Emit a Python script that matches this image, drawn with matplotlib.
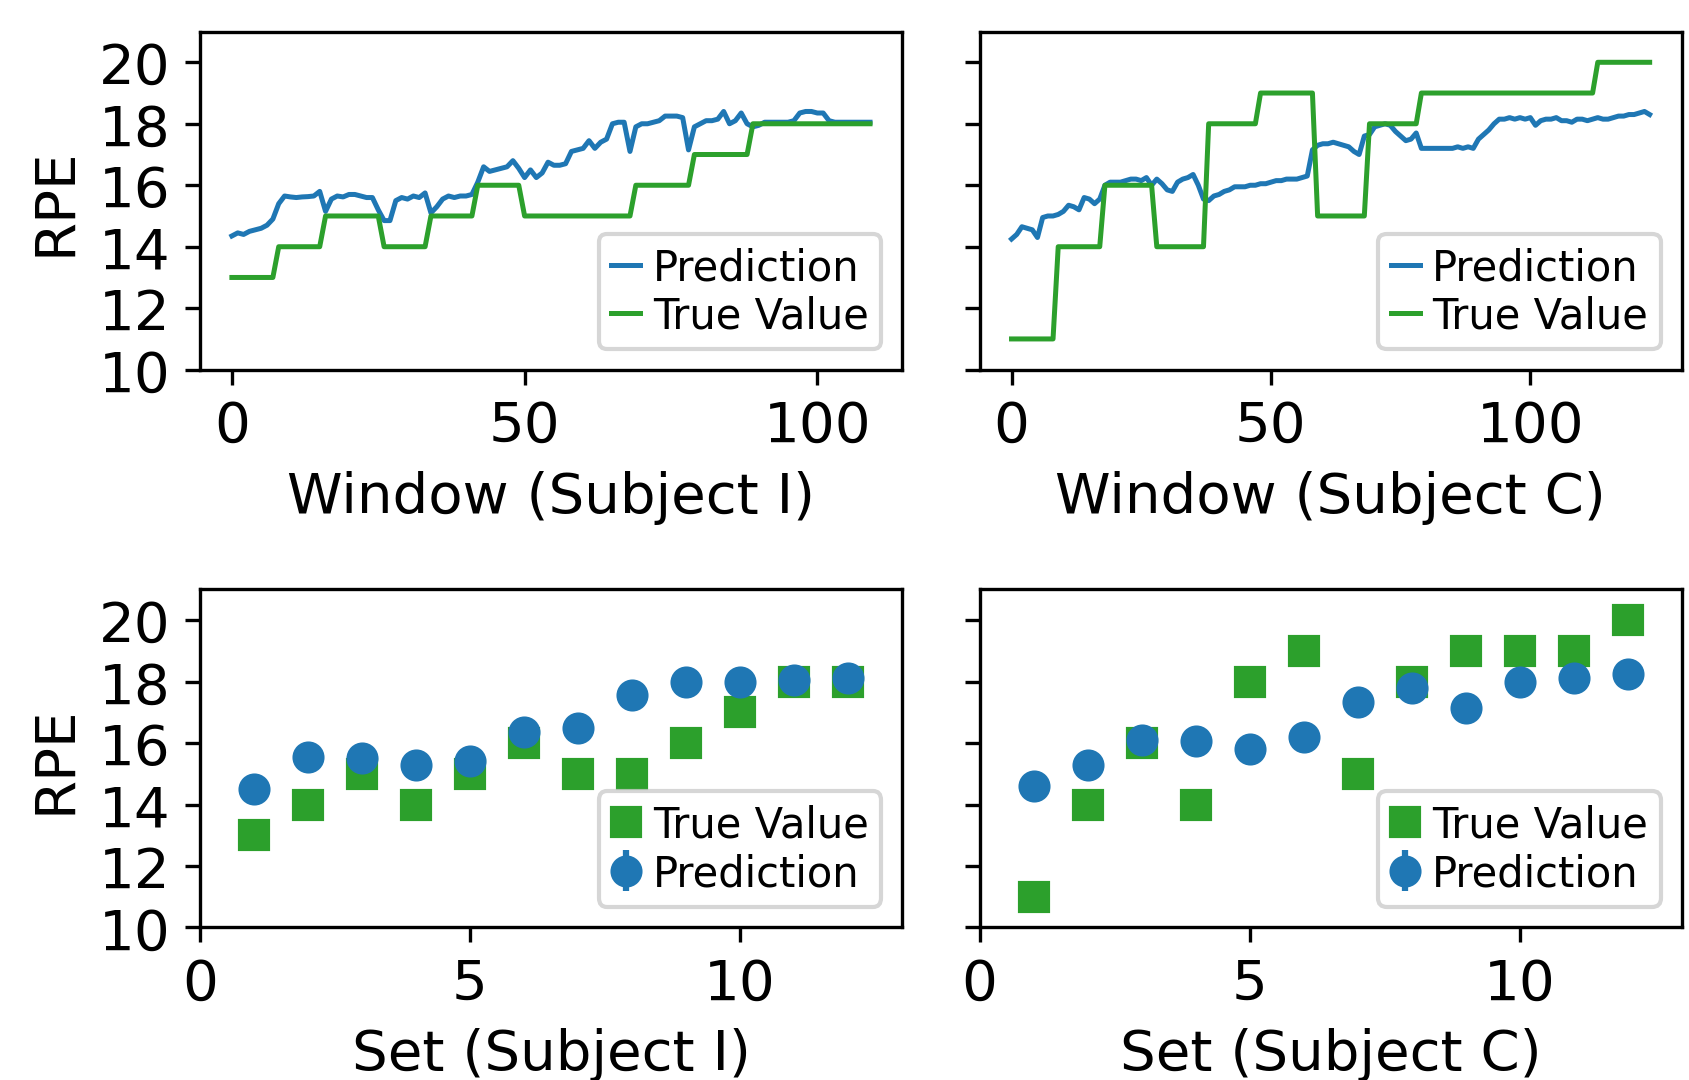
import numpy as np
import matplotlib
matplotlib.use("Agg")
import matplotlib.pyplot as plt

# ---- window level data (top row) ----
# true RPE per set, stored as (value, number of windows)
true_i_steps = [13, 14, 15, 14, 15, 16, 15, 16, 17, 18]
true_i_counts = [8, 8, 10, 8, 8, 8, 19, 10, 10, 21]
pred_i = [
    14.35, 14.45, 14.4, 14.5, 14.55, 14.6, 14.7, 14.9, 15.4, 15.65,
    15.62, 15.6, 15.62, 15.63, 15.65, 15.8, 15.15, 15.55, 15.65, 15.62,
    15.7, 15.7, 15.65, 15.6, 15.6, 15.2, 14.85, 14.85, 15.5, 15.6,
    15.55, 15.65, 15.6, 15.75, 15.1, 15.3, 15.55, 15.65, 15.6, 15.65,
    15.65, 15.7, 16.1, 16.6, 16.45, 16.5, 16.55, 16.6, 16.8, 16.55,
    16.25, 16.5, 16.25, 16.4, 16.75, 16.65, 16.65, 16.7, 17.1, 17.15,
    17.2, 17.45, 17.2, 17.4, 17.5, 18.0, 18.05, 18.05, 17.1, 17.9,
    18.0, 18.0, 18.05, 18.1, 18.25, 18.25, 18.25, 18.2, 17.15, 17.9,
    18.0, 18.1, 18.1, 18.15, 18.4, 18.0, 18.1, 18.35, 18.0, 17.9,
    17.95, 18.05, 18.05, 18.05, 18.05, 18.05, 18.1, 18.35, 18.4, 18.4,
    18.35, 18.35, 18.1, 18.05, 18.05, 18.05, 18.05, 18.05, 18.05, 18.05,
]

true_c_steps = [11, 14, 16, 14, 18, 19, 15, 18, 19, 20]
true_c_counts = [9, 9, 10, 10, 10, 11, 10, 10, 34, 11]
pred_c = [
    14.25, 14.4, 14.65, 14.6, 14.55, 14.3, 14.95, 15.0, 15.0, 15.05,
    15.15, 15.35, 15.3, 15.2, 15.6, 15.55, 15.4, 15.55, 16.0, 16.1,
    16.1, 16.1, 16.15, 16.2, 16.2, 16.15, 16.25, 16.0, 16.2, 16.05,
    15.85, 15.8, 16.1, 16.2, 16.25, 16.35, 16.0, 15.55, 15.5, 15.65,
    15.7, 15.8, 15.85, 15.95, 15.95, 15.95, 16.0, 16.0, 16.05, 16.05,
    16.1, 16.15, 16.15, 16.2, 16.2, 16.2, 16.25, 16.3, 17.15, 17.3,
    17.35, 17.35, 17.4, 17.35, 17.3, 17.25, 17.1, 17.0, 17.6, 17.65,
    17.9, 17.95, 18.0, 17.95, 17.75, 17.6, 17.45, 17.5, 17.7, 17.2,
    17.2, 17.2, 17.2, 17.2, 17.2, 17.2, 17.25, 17.2, 17.25, 17.2,
    17.5, 17.65, 17.8, 18.0, 18.15, 18.15, 18.2, 18.15, 18.2, 18.15,
    18.2, 17.95, 18.1, 18.15, 18.15, 18.2, 18.1, 18.1, 18.05, 18.15,
    18.15, 18.1, 18.15, 18.2, 18.15, 18.15, 18.2, 18.25, 18.25, 18.3,
    18.3, 18.35, 18.4, 18.3,
]

# ---- set level data (bottom row) ----
sets = [1, 2, 3, 4, 5, 6, 7, 8, 9, 10, 11, 12]
set_true_i = [13, 14, 15, 14, 15, 16, 15, 15, 16, 17, 18, 18]
set_pred_i = [14.5, 15.55, 15.5, 15.3, 15.4, 16.35, 16.5, 17.55, 18.0, 18.0, 18.05, 18.1]
set_err_i = [0.15, 0.1, 0.15, 0.1, 0.15, 0.1, 0.1, 0.1, 0.05, 0.05, 0.05, 0.1]
set_true_c = [11, 14, 16, 14, 18, 19, 15, 18, 19, 19, 19, 20]
set_pred_c = [14.6, 15.3, 16.1, 16.05, 15.8, 16.2, 17.35, 17.8, 17.15, 18.0, 18.1, 18.25]
set_err_c = [0.15, 0.15, 0.1, 0.1, 0.05, 0.05, 0.05, 0.15, 0.05, 0.05, 0.1, 0.05]

blue = "#1f77b4"
green = "#2ca02c"

plt.rcParams["font.family"] = "DejaVu Sans"
plt.rcParams["font.size"] = 13.5

fig = plt.figure(figsize=(5.63, 3.6033), dpi=300)
w, h = 0.4156, 0.3128
ax_tl = fig.add_axes([0.1184, 0.6571, w, h])
ax_tr = fig.add_axes([0.5800, 0.6571, w, h], sharey=ax_tl)
ax_bl = fig.add_axes([0.1184, 0.1411, w, h])
ax_br = fig.add_axes([0.5800, 0.1411, w, h], sharey=ax_bl)

leg_kw = dict(loc="lower right", fontsize=10, handlelength=0.7, handletextpad=0.3,
              labelspacing=0.15, borderpad=0.3)

for ax, pred, steps, counts, name in [
    (ax_tl, pred_i, true_i_steps, true_i_counts, "I"),
    (ax_tr, pred_c, true_c_steps, true_c_counts, "C"),
]:
    true_vals = np.repeat(steps, counts)
    x = np.arange(len(pred))
    ax.plot(x, pred, color=blue, lw=1.2, label="Prediction")
    ax.plot(x, true_vals, color=green, lw=1.2, label="True Value")
    ax.set_xlabel(f"Window (Subject {name})")
    ax.set_xticks([0, 50, 100])
    ax.legend(**leg_kw)

for ax, st, sp, se, name in [
    (ax_bl, set_true_i, set_pred_i, set_err_i, "I"),
    (ax_br, set_true_c, set_pred_c, set_err_c, "C"),
]:
    ax.plot(sets, st, "s", color=green, ms=6.7, label="True Value")
    ax.errorbar(sets, sp, yerr=se, fmt="o", color=blue, ms=6.7, label="Prediction")
    ax.set_xlim(0, 13)
    ax.set_xticks([0, 5, 10])
    ax.set_xlabel(f"Set (Subject {name})")
    ax.legend(**leg_kw)

for ax in [ax_tl, ax_bl]:
    ax.set_ylim(10, 21)
    ax.set_yticks([10, 12, 14, 16, 18, 20])
    ax.set_ylabel("RPE")
for ax in [ax_tr, ax_br]:
    ax.tick_params(labelleft=False)

fig.savefig("out.png", dpi=300)
